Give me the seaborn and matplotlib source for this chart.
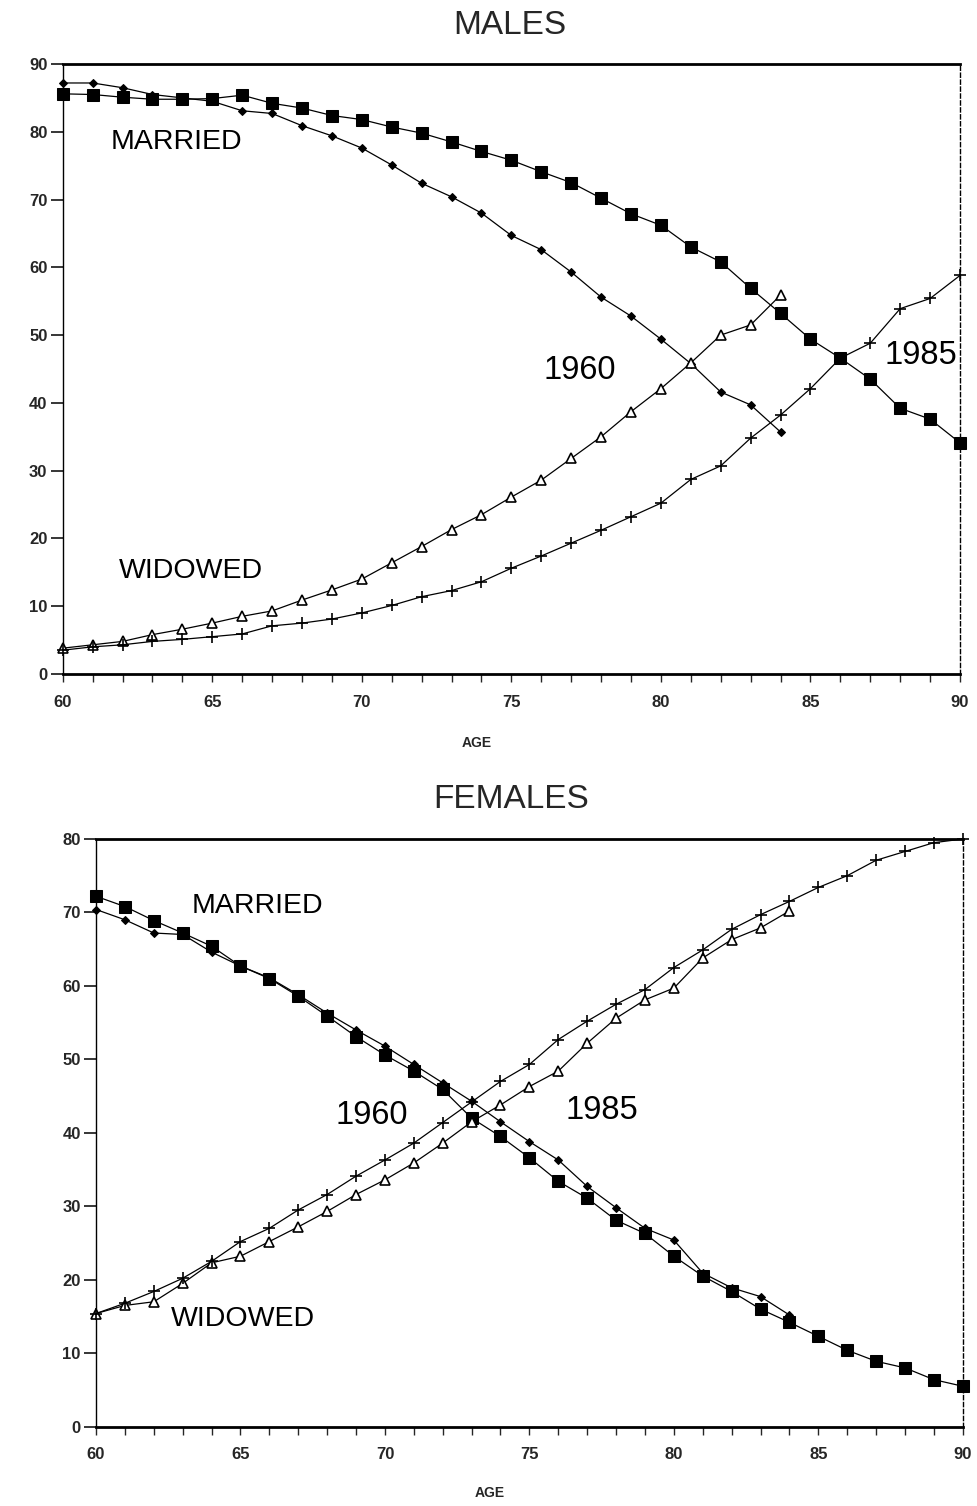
import matplotlib
matplotlib.use("Agg")
import matplotlib.pyplot as plt
import numpy as np
import pandas as pd
import seaborn as sns

# ---- data (percent of population by age) ----
ages_all = list(range(60, 91))
ages_1960 = list(range(60, 85))

males_married_1960 = [87.2, 87.2, 86.5, 85.5, 85.0, 84.5, 83.1, 82.7, 80.9, 79.4, 77.6,
                      75.1, 72.4, 70.4, 68.0, 64.7, 62.6, 59.3, 55.6, 52.8, 49.4,
                      45.8, 41.6, 39.7, 35.7]
males_married_1985 = [85.6, 85.5, 85.1, 84.8, 84.8, 84.9, 85.4, 84.2, 83.5, 82.4, 81.8,
                      80.7, 79.8, 78.5, 77.1, 75.8, 74.1, 72.5, 70.2, 67.9, 66.2,
                      63.0, 60.8, 56.9, 53.2, 49.4, 46.6, 43.5, 39.2, 37.6, 34.1]
males_widowed_1960 = [3.8, 4.3, 4.8, 5.8, 6.6, 7.5, 8.5, 9.3, 10.9, 12.4, 14.0,
                      16.4, 18.8, 21.3, 23.5, 26.1, 28.6, 31.8, 35.0, 38.7, 42.1,
                      45.9, 50.0, 51.5, 55.9]
males_widowed_1985 = [3.5, 4.0, 4.3, 4.8, 5.1, 5.5, 5.9, 7.1, 7.5, 8.1, 9.0,
                      10.1, 11.4, 12.3, 13.6, 15.6, 17.4, 19.3, 21.2, 23.2, 25.2,
                      28.7, 30.7, 34.8, 38.2, 42.1, 46.6, 48.8, 53.9, 55.4, 58.8]

females_married_1960 = [70.4, 69.0, 67.2, 67.0, 64.6, 62.7, 61.1, 58.8, 56.3, 54.0, 51.8,
                        49.3, 46.8, 44.3, 41.5, 38.8, 36.3, 32.7, 29.8, 27.0, 25.4,
                        20.9, 18.9, 17.7, 15.2]
females_married_1985 = [72.2, 70.8, 68.9, 67.2, 65.4, 62.7, 61.0, 58.6, 55.9, 53.1, 50.6,
                        48.4, 45.9, 42.0, 39.5, 36.6, 33.4, 31.1, 28.1, 26.3, 23.2,
                        20.5, 18.4, 16.0, 14.2, 12.3, 10.4, 8.9, 8.0, 6.4, 5.5]
females_widowed_1960 = [15.4, 16.5, 17.0, 19.5, 22.3, 23.2, 25.2, 27.2, 29.3, 31.6, 33.6,
                        35.9, 38.6, 41.5, 43.8, 46.3, 48.4, 52.2, 55.6, 58.1, 59.7,
                        63.8, 66.3, 67.9, 70.2]
females_widowed_1985 = [15.4, 16.8, 18.4, 20.2, 22.5, 25.2, 27.0, 29.5, 31.6, 34.1, 36.3,
                        38.6, 41.4, 44.2, 47.0, 49.3, 52.7, 55.2, 57.5, 59.5, 62.5,
                        64.9, 67.7, 69.7, 71.5, 73.4, 75.0, 77.1, 78.3, 79.5, 80.0]

sns.set_theme(style="white")
plt.rcParams["font.family"] = ["Liberation Sans", "DejaVu Sans"]

fig = plt.figure(figsize=(9.77, 15.06), dpi=100)
ax_m = fig.add_axes([0.0642, 0.5525, 0.9184, 0.4050])
ax_f = fig.add_axes([0.0983, 0.0527, 0.8871, 0.3902])

styles = {
    "married_1960": dict(marker="D", markersize=4.5, markerfacecolor="black", markeredgecolor="black"),
    "married_1985": dict(marker="s", markersize=8, markerfacecolor="black", markeredgecolor="black"),
    "widowed_1960": dict(marker="^", markersize=7, markerfacecolor="white", markeredgecolor="black",
                         markeredgewidth=1.2),
    "widowed_1985": dict(marker="+", markersize=9, markeredgecolor="black", markeredgewidth=1.2),
}


def draw_panel(ax, series, ymax, labels):
    for key, ages, vals in series:
        sns.lineplot(x=ages, y=vals, ax=ax, color="black", linewidth=0.9,
                     dashes=False, clip_on=False, zorder=3, **styles[key])
    ax.set_xlim(60, 90)
    ax.set_ylim(0, ymax)
    ax.set_xticks(np.arange(60, 91, 5))
    ax.set_xticks(np.arange(60, 91, 1), minor=True)
    ax.set_yticks(np.arange(0, ymax + 1, 10))
    ax.tick_params(axis="y", direction="out", length=9, width=1.3, pad=2, labelsize=12, left=True)
    ax.tick_params(axis="x", which="both", direction="out", length=6, width=1.0, pad=9,
                   labelsize=12, bottom=True)
    for lab in ax.get_xticklabels() + ax.get_yticklabels():
        lab.set_fontweight("bold")
    ax.spines["left"].set_linewidth(1.0)
    ax.spines["top"].set_linewidth(2.0)
    ax.spines["bottom"].set_linewidth(2.0)
    ax.spines["right"].set_linewidth(1.0)
    ax.spines["right"].set_linestyle((0, (3, 2)))
    for sp in ax.spines.values():
        sp.set_color("black")
    ax.set_xlabel("")
    ax.set_ylabel("")
    for text, x, y in labels:
        size = 23.5 if text.isdigit() else 20.5
        ax.text(x, y, text, ha="center", va="center", fontsize=size, color="black")


draw_panel(
    ax_m,
    [("married_1960", ages_1960, males_married_1960),
     ("married_1985", ages_all, males_married_1985),
     ("widowed_1960", ages_1960, males_widowed_1960),
     ("widowed_1985", ages_all, males_widowed_1985)],
    90,
    [("MARRIED", 63.8, 78.5), ("WIDOWED", 64.3, 15.2), ("1960", 77.3, 44.8), ("1985", 88.7, 47.0)],
)
draw_panel(
    ax_f,
    [("married_1960", ages_1960, females_married_1960),
     ("married_1985", ages_all, females_married_1985),
     ("widowed_1960", ages_1960, females_widowed_1960),
     ("widowed_1985", ages_all, females_widowed_1985)],
    80,
    [("MARRIED", 65.6, 70.9), ("WIDOWED", 65.1, 14.7), ("1960", 69.55, 42.3), ("1985", 77.5, 43.1)],
)

fig.text(510 / 977, 1 - 25 / 1506, "MALES", ha="center", va="center", fontsize=24)
fig.text(511 / 977, 1 - 800 / 1506, "FEMALES", ha="center", va="center", fontsize=24)
fig.text(477 / 977, 1 - 743 / 1506, "AGE", ha="center", va="center", fontsize=10, fontweight="bold")
fig.text(490 / 977, 1 - 1493 / 1506, "AGE", ha="center", va="center", fontsize=10, fontweight="bold")

fig.savefig("out.png", dpi=100, facecolor="white")
plt.close(fig)
